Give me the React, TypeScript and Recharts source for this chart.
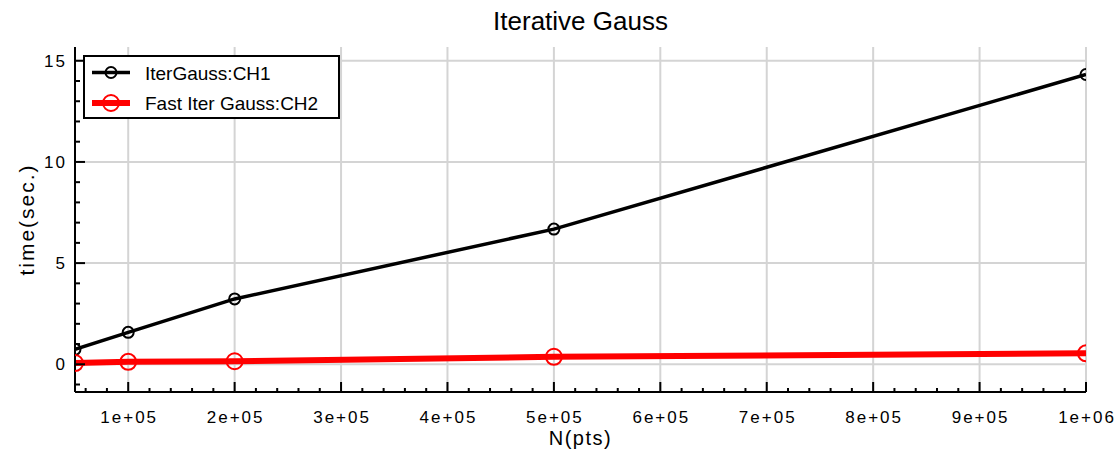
import React from 'react';
import { LineChart, Line, XAxis, YAxis, CartesianGrid, Legend, Label } from 'recharts';

// sample sizes (x) and run times in seconds (y)
const nPts = [50000, 100000, 200000, 500000, 1000000];
const iterGauss = [0.74, 1.58, 3.23, 6.68, 14.32];
const fastIterGauss = [0.06, 0.12, 0.15, 0.37, 0.54];

const xMajor = [100000, 200000, 300000, 400000, 500000, 600000, 700000, 800000, 900000, 1000000];
const xLabels = ['1e+05', '2e+05', '3e+05', '4e+05', '5e+05', '6e+05', '7e+05', '8e+05', '9e+05', '1e+06'];
const yMajor = [0, 5, 10, 15];
const yLabels = ['0', '5', '10', '15'];

const seriesNames = ['IterGauss:CH1', 'Fast Iter Gauss:CH2'];
const seriesColors = ['#000000', '#ff0000'];

const X_DOMAIN: [number, number] = [50000, 1000000];
const Y_DOMAIN: [number, number] = [-1.37, 15.68];

// minor ticks: every 2e4 on x, every 1 on y
const xTicks: number[] = [];
for (let i = 3; i <= 50; i++) xTicks.push(i * 20000);
const yTicks: number[] = [];
for (let i = -1; i <= 15; i++) yTicks.push(i);

const data = nPts.map((n, i) => ({ n, ch1: iterGauss[i], ch2: fastIterGauss[i] }));

const FONT = '"Liberation Sans", Arial, sans-serif';

const XTick = (props: any) => {
  const { x, y, payload, top } = props;
  const idx = xMajor.indexOf(payload.value);
  const len = idx >= 0 ? 10 : 4;
  return (
    <g>
      <line x1={x} x2={x} y1={y} y2={top ? y + len : y - len} stroke="#000" strokeWidth={2} />
      {!top && idx >= 0 && (
        <text x={x + 1} y={y + 31} textAnchor="middle" fontSize={17} letterSpacing={2} fill="#000" fontFamily={FONT}>
          {xLabels[idx]}
        </text>
      )}
    </g>
  );
};

const YTick = (props: any) => {
  const { x, y, payload, right } = props;
  const idx = yMajor.indexOf(payload.value);
  const len = idx >= 0 ? 10 : 5;
  return (
    <g>
      <line x1={x} x2={right ? x - len : x + len} y1={y} y2={y} stroke="#000" strokeWidth={2} />
      {!right && idx >= 0 && (
        <text x={x - 8} y={y + 6} textAnchor="end" fontSize={17} letterSpacing={2} fill="#000" fontFamily={FONT}>
          {yLabels[idx]}
        </text>
      )}
    </g>
  );
};

const renderLegend = () => (
  <svg width={257} height={64} style={{ display: 'block' }}>
    <rect x={1} y={1} width={255} height={62} fill="#fff" stroke="#000" strokeWidth={2} />
    {seriesNames.map((name, i) => {
      const cy = i === 0 ? 17.5 : 48;
      return (
        <g key={name}>
          <line x1={9} x2={47} y1={cy} y2={cy} stroke={seriesColors[i]} strokeWidth={i === 0 ? 3.5 : 6} />
          <circle cx={28} cy={cy} r={i === 0 ? 5.5 : 8} fill="none" stroke={seriesColors[i]} strokeWidth={2} />
          <text x={62} y={cy + 7} fontSize={19} fill="#000" fontFamily={FONT}>
            {name}
          </text>
        </g>
      );
    })}
  </svg>
);

export default function App() {
  return (
    <div style={{ position: 'absolute', left: 0, top: 0, width: 1115, height: 451, fontFamily: FONT }}>
      <div
        style={{
          position: 'absolute',
          left: 75,
          top: 6,
          width: 1011,
          textAlign: 'center',
          fontSize: 26,
          lineHeight: '30px',
          color: '#000',
        }}
      >
        Iterative Gauss
      </div>
      <LineChart width={1115} height={451} data={data} margin={{ top: 47, right: 29, bottom: 0, left: 0 }}>
        <CartesianGrid
          xAxisId="b"
          yAxisId="l"
          stroke="#d4d4d4"
          strokeWidth={2}
          horizontalValues={yMajor}
          verticalValues={xMajor}
        />
        <XAxis
          xAxisId="b"
          dataKey="n"
          type="number"
          domain={X_DOMAIN}
          allowDataOverflow
          ticks={xTicks}
          interval={0}
          height={59}
          tickSize={0}
          tickMargin={0}
          tickLine={false}
          axisLine={{ stroke: '#000', strokeWidth: 2 }}
          tick={(p: any) => <XTick {...p} />}
        >
          <Label value="N(pts)" position="insideBottom" offset={6} fontSize={20} letterSpacing={1.5} fill="#000" fontFamily={FONT} />
        </XAxis>
        <XAxis
          xAxisId="t"
          orientation="top"
          type="number"
          domain={X_DOMAIN}
          allowDataOverflow
          ticks={xTicks}
          interval={0}
          height={0}
          tickSize={0}
          tickMargin={0}
          tickLine={false}
          axisLine={{ stroke: '#000', strokeWidth: 2 }}
          tick={(p: any) => <XTick {...p} top />}
        />
        <YAxis
          yAxisId="l"
          type="number"
          domain={Y_DOMAIN}
          allowDataOverflow
          ticks={yTicks}
          interval={0}
          width={75}
          tickSize={0}
          tickMargin={0}
          tickLine={false}
          axisLine={{ stroke: '#000', strokeWidth: 2 }}
          tick={(p: any) => <YTick {...p} />}
        >
          <Label
            value="time(sec.)"
            angle={-90}
            position="insideLeft"
            offset={27}
            fontSize={21}
            letterSpacing={2}
            fill="#000"
            fontFamily={FONT}
            style={{ textAnchor: 'middle' }}
          />
        </YAxis>
        <YAxis
          yAxisId="r"
          orientation="right"
          type="number"
          domain={Y_DOMAIN}
          allowDataOverflow
          ticks={yTicks}
          interval={0}
          width={0}
          tickSize={0}
          tickMargin={0}
          tickLine={false}
          axisLine={{ stroke: '#000', strokeWidth: 2 }}
          tick={(p: any) => <YTick {...p} right />}
        />
        <Line
          xAxisId="b"
          yAxisId="l"
          dataKey="ch1"
          name={seriesNames[0]}
          stroke={seriesColors[0]}
          strokeWidth={3.5}
          dot={{ r: 5.5, fill: 'none', stroke: seriesColors[0], strokeWidth: 2 }}
          isAnimationActive={false}
        />
        <Line
          xAxisId="b"
          yAxisId="l"
          dataKey="ch2"
          name={seriesNames[1]}
          stroke={seriesColors[1]}
          strokeWidth={6}
          dot={{ r: 8, fill: 'none', stroke: seriesColors[1], strokeWidth: 2 }}
          isAnimationActive={false}
        />
        <Legend
          layout="vertical"
          align="center"
          verticalAlign="middle"
          content={renderLegend}
          wrapperStyle={{ left: 83, top: 55, width: 257, height: 64 }}
        />
      </LineChart>
    </div>
  );
}
